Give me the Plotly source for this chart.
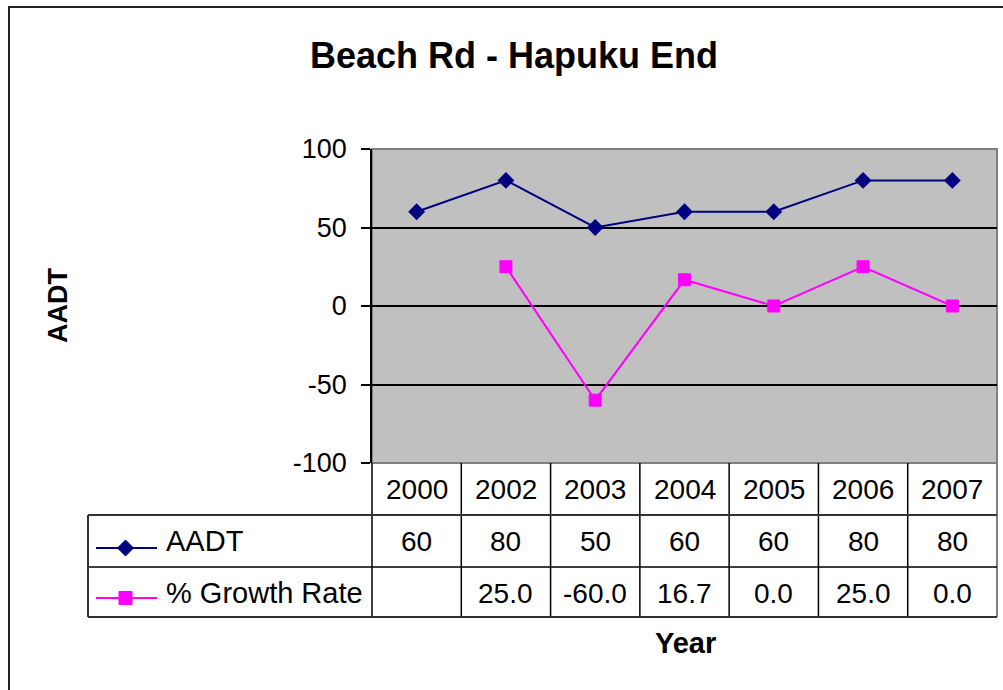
import plotly.graph_objects as go

# ---- data ----
years = ["2000", "2002", "2003", "2004", "2005", "2006", "2007"]
aadt = [60, 80, 50, 60, 60, 80, 80]
growth = [None, 25.0, -60.0, 16.7, 0.0, 25.0, 0.0]
series_names = ["AADT", "% Growth Rate"]
y_ticks = [-100, -50, 0, 50, 100]
y_tick_labels = ["-100", "-50", "0", "50", "100"]
chart_title = "Beach Rd - Hapuku End"
x_title = "Year"
y_title = "AADT"

# ---- layout helpers (pixel -> paper) ----
W, H = 1003, 690
def px(x):
    return x / W
def py(y):
    return 1 - y / H

FONT = "Liberation Sans, Arial, sans-serif"
NAVY = "#000080"
MAG = "#FF00FF"
GRAY = "#808080"

PL, PR, PT, PB = 372, 997, 149, 463      # plot area
ROW1, ROW2, ROW3 = 515, 567, 617          # table row boundaries
LEG_L = 88

fig = go.Figure()
fig.add_trace(go.Scatter(
    x=list(range(len(years))), y=aadt, name=series_names[0], mode="lines+markers",
    line=dict(color=NAVY, width=2),
    marker=dict(symbol="diamond", size=13, color=NAVY),
    showlegend=False, cliponaxis=False))
fig.add_trace(go.Scatter(
    x=list(range(len(years))), y=growth, name=series_names[1], mode="lines+markers",
    line=dict(color=MAG, width=2),
    marker=dict(symbol="square", size=12, color=MAG, line=dict(color=MAG, width=1)),
    connectgaps=False, showlegend=False, cliponaxis=False))

shapes = []
# outer chart border
shapes.append(dict(type="rect", xref="paper", yref="paper",
                   x0=px(9), x1=1.05, y0=-0.05, y1=py(7),
                   line=dict(color="#222222", width=2), layer="below"))
# plot area border (gray top/right)
shapes.append(dict(type="rect", xref="paper", yref="paper",
                   x0=px(PL), x1=px(PR), y0=py(PB), y1=py(PT),
                   line=dict(color=GRAY, width=2), layer="below"))
# table vertical lines between categories
for i in range(len(years) - 1):
    shapes.append(dict(type="line", xref="x", yref="paper",
                       x0=i + 0.5, x1=i + 0.5, y0=py(PB), y1=py(ROW3),
                       line=dict(color="#000000", width=1.5)))
# table left (plot left) and right edges
shapes.append(dict(type="line", xref="paper", yref="paper",
                   x0=px(PL), x1=px(PL), y0=py(PB), y1=py(ROW3),
                   line=dict(color="#000000", width=1.5)))
shapes.append(dict(type="line", xref="paper", yref="paper",
                   x0=px(PR), x1=px(PR), y0=py(PB), y1=py(ROW3),
                   line=dict(color=GRAY, width=2)))
# horizontal rows
shapes.append(dict(type="line", xref="paper", yref="paper",
                   x0=px(LEG_L), x1=px(PR), y0=py(ROW1), y1=py(ROW1),
                   line=dict(color="#333333", width=2)))
shapes.append(dict(type="line", xref="paper", yref="paper",
                   x0=px(LEG_L), x1=px(PR), y0=py(ROW2), y1=py(ROW2),
                   line=dict(color="#000000", width=1.5)))
shapes.append(dict(type="line", xref="paper", yref="paper",
                   x0=px(LEG_L), x1=px(PR), y0=py(ROW3), y1=py(ROW3),
                   line=dict(color="#333333", width=2)))
shapes.append(dict(type="line", xref="paper", yref="paper",
                   x0=px(LEG_L), x1=px(LEG_L), y0=py(ROW1), y1=py(ROW3),
                   line=dict(color="#333333", width=2)))

# legend keys
key_y = [548, 598]
key_x0, key_x1, key_xc = 96, 157, 125.5
colors = [NAVY, MAG]
for ky, c in zip(key_y, colors):
    shapes.append(dict(type="line", xref="paper", yref="paper",
                       x0=px(key_x0), x1=px(key_x1), y0=py(ky), y1=py(ky),
                       line=dict(color=c, width=2)))
d = 8
shapes.append(dict(type="path", xref="paper", yref="paper",
                   path=(f"M {px(key_xc - d)} {py(key_y[0])} L {px(key_xc)} {py(key_y[0] - d)} "
                         f"L {px(key_xc + d)} {py(key_y[0])} L {px(key_xc)} {py(key_y[0] + d)} Z"),
                   fillcolor=NAVY, line=dict(color=NAVY, width=1)))
s = 6.5
shapes.append(dict(type="rect", xref="paper", yref="paper",
                   x0=px(key_xc - s), x1=px(key_xc + s),
                   y0=py(key_y[1] + s), y1=py(key_y[1] - s),
                   fillcolor=MAG, line=dict(color=MAG, width=1)))

ann = []
TF = dict(family=FONT, size=28, color="#000000")
row_centers = [489, 541, 593]
for i, yr in enumerate(years):
    ann.append(dict(x=i, xref="x", y=py(row_centers[0]), yref="paper",
                    xanchor="center", yanchor="middle",
                    text=yr, showarrow=False, font=TF))
    ann.append(dict(x=i, xref="x", y=py(row_centers[1]), yref="paper",
                    xanchor="center", yanchor="middle",
                    text=str(aadt[i]), showarrow=False, font=TF))
    g = growth[i]
    ann.append(dict(x=i, xref="x", y=py(row_centers[2]), yref="paper",
                    xanchor="center", yanchor="middle",
                    text="" if g is None else f"{g:.1f}", showarrow=False, font=TF))
for name, rc in zip(series_names, row_centers[1:]):
    ann.append(dict(x=px(164), xref="paper", xanchor="left",
                    y=py(rc), yref="paper", yanchor="middle",
                    text=name, showarrow=False,
                    font=dict(family=FONT, size=29, color="#000000")))
ann.append(dict(x=px(514), y=py(55), xref="paper", yref="paper",
                xanchor="center", yanchor="middle",
                text=f"<b>{chart_title}</b>", showarrow=False,
                font=dict(family=FONT, size=36, color="#000000")))
ann.append(dict(x=px(58), y=py(306), xref="paper", yref="paper",
                xanchor="center", yanchor="middle",
                text=f"<b>{y_title}</b>", textangle=-90, showarrow=False,
                font=dict(family=FONT, size=27, color="#000000")))
ann.append(dict(x=px(685), y=py(643), xref="paper", yref="paper",
                xanchor="center", yanchor="middle",
                text=f"<b>{x_title}</b>", showarrow=False,
                font=dict(family=FONT, size=29, color="#000000")))

fig.update_layout(
    template="none",
    width=W, height=H, autosize=False,
    margin=dict(l=0, r=0, t=0, b=0, pad=0),
    paper_bgcolor="#FFFFFF", plot_bgcolor="#C0C0C0",
    font=dict(family=FONT, size=26, color="#000000"),
    shapes=shapes, annotations=ann,
    xaxis=dict(domain=[px(PL), px(PR)], automargin=False,
               range=[-0.5, len(years) - 0.5],
               showticklabels=False, ticks="", showgrid=False,
               zeroline=False, showline=False),
    yaxis=dict(domain=[py(PB), py(PT)], range=[-100, 100], automargin=False,
               tickmode="array", tickvals=y_ticks, ticktext=y_tick_labels,
               ticks="outside", ticklen=9, tickwidth=1.5, tickcolor="#000000",
               ticklabelstandoff=9,
               showgrid=True, gridcolor="#000000", gridwidth=1.5,
               zeroline=True, zerolinecolor="#000000", zerolinewidth=1.5,
               showline=True, linecolor="#000000", linewidth=1.5,
               tickfont=dict(family=FONT, size=27, color="#000000")),
)

fig.write_html("out.html", config={"displayModeBar": False},
               post_script="document.body.style.margin='0';")
